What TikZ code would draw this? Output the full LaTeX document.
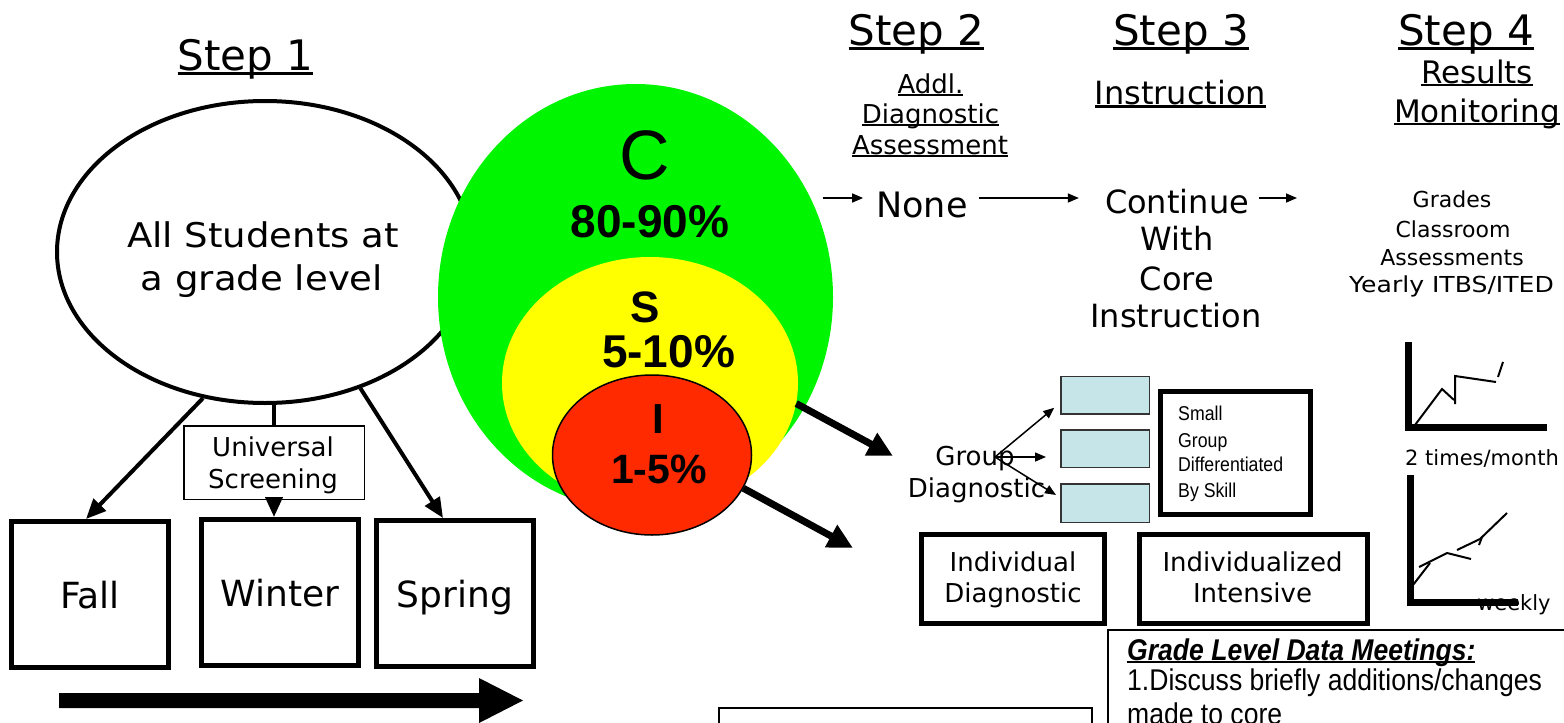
\documentclass[tikz,border=0pt]{standalone}
\usepackage{fontspec}
\setmainfont{DejaVu Sans}
\newfontfamily\widef[FakeStretch=1.09]{DejaVu Sans}
\newfontfamily\widerf[FakeStretch=1.14]{DejaVu Sans}
\newfontfamily\arialf{Liberation Sans}
\newfontfamily\narrowf[FakeStretch=0.885]{Liberation Sans}
\usetikzlibrary{arrows.meta,shapes.geometric}
\definecolor{cgreen}{RGB}{0,245,0}
\definecolor{cyellow}{RGB}{255,255,0}
\definecolor{cred}{RGB}{255,42,0}
\definecolor{cyanbox}{RGB}{197,229,232}
\newcommand\fs[1]{\fontsize{#1}{#1}\selectfont}
\newcommand\myul[1]{\setbox0\hbox{#1}\rlap{\rule[-0.11em]{\wd0}{0.07em}}\box0}
\begin{document}
\begin{tikzpicture}[x=1pt,y=-1pt,
  txt/.style={inner sep=0pt, anchor=base},
  sbox/.style={draw, line width=5pt, inner sep=0pt, minimum width=157pt, minimum height=146pt, text height=27pt, text depth=0pt, font=\fs{36}},
  cbox/.style={draw=black!80, line width=1.5pt, fill=cyanbox, minimum width=88.5pt, minimum height=37.5pt, inner sep=0pt},
  tbox/.style={draw, line width=5pt, inner sep=0pt},
  bigarr/.style={line width=4pt, -{Triangle[length=20pt,width=17pt]}},
  thinarr/.style={line width=1.5pt, -{Triangle[length=11pt,width=9pt]}},
  fatarr/.style={line width=7pt, -{Triangle[length=25pt,width=24pt]}},
  gline/.style={line width=2pt},
  axis/.style={line width=7pt},
]
\useasboundingbox (0,0) rectangle (1564,723);
\fill[white] (0,0) rectangle (1564,723);

% Step 1
\node[txt, font=\fs{42}] (s1) at (245.5,70) {\myul{Step 1}};
\node[ellipse, draw, line width=4pt, minimum width=416pt, minimum height=302pt, inner sep=0pt] (all) at (265,252) {};
\node[txt, font=\widef\fs{34}] (all1) at (263,247) {All Students at};
\node[txt, font=\widef\fs{34}] (all2) at (262,290) {a grade level};

\node[draw, line width=1.5pt, inner sep=0pt, minimum width=180.5pt, minimum height=73.5pt] (us) at (274,462.5) {};
\node[txt, font=\fs{26}] (us1) at (273,456) {Universal};
\node[txt, font=\fs{26}] (us2) at (273,488) {Screening};

\node[sbox] (fall) at (90,594.5) {Fall};
\node[sbox] (winter) at (280,592.5) {Winter};
\node[sbox] (spring) at (455,593.5) {Spring};

\draw[bigarr] (all.247) -- ([xshift=-4pt]fall.north);
\draw[line width=4pt] (us.north |- all.south) -- (us.north);
\draw[bigarr] (us.south) -- (us.south |- winter.north);
\draw[bigarr] (all.305) -- ([xshift=-12pt]spring.north);

\fill (59,693) -- (479,693) -- (479,678) -- (523,700.5) -- (479,723) -- (479,708) -- (59,708) -- cycle;

% C S I
\node[ellipse, fill=cgreen, minimum width=395pt, minimum height=426pt, inner sep=0pt] (gC) at (635.5,297) {};
\node[ellipse, fill=cyellow, minimum width=296pt, minimum height=252pt, inner sep=0pt] (gS) at (650,383) {};
\node[ellipse, fill=cred, draw, line width=1.5pt, minimum width=199pt, minimum height=160pt, inner sep=0pt] (gI) at (652,455) {};
\node[txt, font=\arialf\fs{70}] (tC) at (645,179) {C};
\node[txt, font=\arialf\bfseries\fs{46}] (tC2) at (650,237) {80-90\%};
\node[txt, font=\arialf\bfseries\fs{44}] (tS) at (645,322) {S};
\node[txt, font=\arialf\bfseries\fs{46}] (tS2) at (668.5,367) {5-10\%};
\node[txt, font=\arialf\bfseries\fs{42}] (tI) at (658.5,433) {I};
\node[txt, font=\arialf\bfseries\fs{41}] (tI2) at (659,483) {1-5\%};

\coordinate (a1e) at (893,456);
\coordinate (a2e) at (853,548);
\draw[fatarr] (gS.-8) -- (a1e);
\draw[fatarr] (gI.-20) -- (a2e);

% headers
\node[txt, font=\fs{42}] (s2) at (916.5,45) {\myul{Step 2}};
\node[txt, font=\fs{42}] (s3) at (1181,45) {\myul{Step 3}};
\node[txt, font=\fs{42}] (s4) at (1466,45) {\myul{Step 4}};
\node[txt, font=\fs{26}] (h2a) at (930.5,93) {\myul{Addl.}};
\node[txt, font=\fs{26}] (h2b) at (930.5,123) {\myul{Diagnostic}};
\node[txt, font=\fs{26}] (h2c) at (930,154) {\myul{Assessment}};
\node[txt, font=\fs{32}] (h3) at (1180.5,104) {\myul{Instruction}};
\node[txt, font=\fs{31}] (h4a) at (1477,83) {\myul{Results}};
\node[txt, font=\fs{31}] (h4b) at (1477,122) {\myul{Monitoring}};

% core row
\node[txt, font=\fs{35}] (none) at (922,217) {None};
\node[txt, font=\fs{32}] (c1) at (1177,213) {Continue};
\node[txt, font=\fs{32}] (c2) at (1177,250) {With};
\node[txt, font=\fs{32}] (c3) at (1177,290) {Core};
\node[txt, font=\fs{32}] (c4) at (1176,327) {Instruction};
\node[txt, font=\fs{22}] (m1) at (1452,207) {Grades};
\node[txt, font=\fs{22}] (m2) at (1453,237) {Classroom};
\node[txt, font=\fs{22}] (m3) at (1452,265) {Assessments};
\node[txt, font=\widerf\fs{22}] (m4) at (1451.5,292) {Yearly ITBS/ITED};

\coordinate (r0) at (823,198);
\coordinate (r3) at (1297,198);
\draw[thinarr, shorten >=13pt] (r0) -- (r0 -| none.west);
\draw[thinarr, shorten <=11pt, shorten >=26pt] (none.east |- r0) -- (c1.west |- r0);
\draw[thinarr, shorten <=10pt] (c1.east |- r0) -- (r3);

% group diagnostic
\node[txt, font=\fs{26}] (gd1) at (975,465) {Group};
\node[txt, font=\fs{26}] (gd2) at (976.5,497) {Diagnostic};
\coordinate (gd) at (995,457);
\node[cbox] (b1) at (1105,395) {};
\node[cbox] (b2) at (1105,448.5) {};
\node[cbox, minimum height=38.5pt] (b3) at (1105,503) {};
\draw[thinarr] (gd) -- ([xshift=-5.75pt,yshift=6.75pt]b1.south west);
\draw[thinarr, shorten >=14pt] (gd) -- (gd -| b2.west);
\draw[thinarr] (gd) -- ([xshift=-4pt,yshift=8pt]b3.west);

\node[tbox, minimum width=150pt, minimum height=123pt] (sg) at (1235.5,453) {};
\node[txt, anchor=base west, font=\narrowf\fs{20}] (sg1) at (1178,420) {Small};
\node[txt, anchor=base west, font=\narrowf\fs{20}] (sg2) at (1178,447) {Group};
\node[txt, anchor=base west, font=\narrowf\fs{20}] (sg3) at (1178,471) {Differentiated};
\node[txt, anchor=base west, font=\narrowf\fs{20}] (sg4) at (1178,497) {By Skill};

\node[tbox, minimum width=183pt, minimum height=89pt] (id) at (1013,579) {};
\node[txt, font=\fs{26}] (id1) at (1013,571) {Individual};
\node[txt, font=\fs{26}] (id2) at (1013,602) {Diagnostic};
\node[tbox, minimum width=228pt, minimum height=89pt] (ii) at (1253.5,579) {};
\node[txt, font=\fs{26}] (ii1) at (1252.5,571) {Individualized};
\node[txt, font=\fs{26}] (ii2) at (1252.5,602) {Intensive};

% graphs
\draw[axis] (1408,342) -- (1408,427) -- (1547,427);
\draw[gline] (1415,425) -- (1442,389) -- (1454,400);
\draw[gline] (1455,404) -- (1455,376) -- (1496,382);
\draw[gline] (1498,377) -- (1503,362);
\node[txt, anchor=base west, font=\fs{21}] (t2m) at (1405,465) {2 times/month};
\node[txt, anchor=base west, font=\fs{21}] (wk) at (1477,610) {weekly};
\draw[axis] (1410,475) -- (1410,602) -- (1518,602);
\draw[gline] (1413,585) -- (1430,563);
\draw[gline] (1419,567) -- (1447,553) -- (1471,559);
\draw[gline] (1457,550) -- (1480,539);
\draw[gline] (1480,539) -- (1507,513);
\draw[gline] (1482,537) -- (1479,545);

% bottom boxes
\draw[line width=1.5pt] (1108,740) -- (1108,630) -- (1580,630);
\node[txt, anchor=base west, font=\narrowf\bfseries\itshape\fs{30}] (gl0) at (1127,660) {\myul{Grade Level Data Meetings:}};
\node[txt, anchor=base west, font=\narrowf\fs{30}] (gl1) at (1127,690) {1.Discuss briefly additions/changes};
\node[txt, anchor=base west, font=\narrowf\fs{30}] (gl2) at (1127,724) {made to core};
\draw[line width=1.5pt] (719,740) -- (719,708) -- (1092,708) -- (1092,740);
\end{tikzpicture}
\end{document}
